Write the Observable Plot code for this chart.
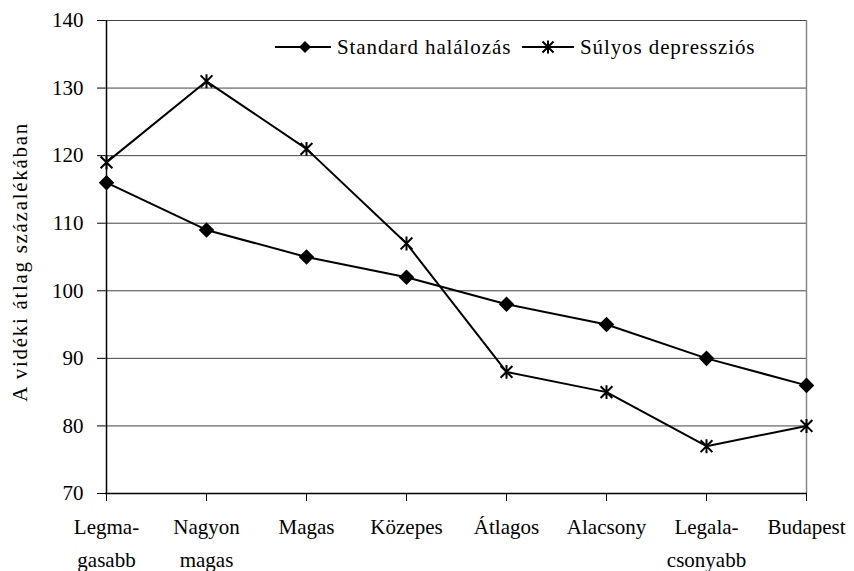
<!DOCTYPE html>
<html>
<head>
<meta charset="utf-8">
<script src="https://cdn.jsdelivr.net/npm/d3@7"></script>
<script src="https://cdn.jsdelivr.net/npm/@observablehq/plot@0.6"></script>
<style>
  html, body { margin: 0; padding: 0; background: #fff; }
  #wrap { position: relative; width: 854px; height: 571px; font-family: "Liberation Serif", "Times New Roman", serif; }
  .legend-item { position: absolute; top: 35px; height: 24px; display: flex; align-items: center; font-size: 21px; color: #000; white-space: nowrap; letter-spacing: 0.9px; }
  .legend-item svg { display: block; margin-right: 6px; }
  #chart svg g.ylab text { letter-spacing: 1.7px; }
</style>
</head>
<body>
<div id="wrap">
  <div id="chart"></div>
</div>
<script>
const categories = ["Legma-\ngasabb", "Nagyon\nmagas", "Magas", "Közepes", "Átlagos", "Alacsony", "Legala-\ncsonyabb", "Budapest"];
const standardHalalozas = [116, 109, 105, 102, 98, 95, 90, 86];
const sulyosDepresszios = [119, 131, 121, 107, 88, 85, 77, 80];
const seriesNames = ["Standard halálozás", "Súlyos depressziós"];
const yTicks = [70, 80, 90, 100, 110, 120, 130, 140];
const yLabel = "A vidéki átlag százalékában";

// custom asterisk: vertical bar plus an X
const asteriskX = {
  draw(context, size) {
    const r = Math.sqrt(size) * 0.56;
    context.moveTo(0, -r); context.lineTo(0, r);
    const d = r * 0.85;
    context.moveTo(-d, -d); context.lineTo(d, d);
    context.moveTo(-d, d); context.lineTo(d, -d);
  }
};

const rows = [];
categories.forEach((c, i) => {
  rows.push({cat: c, value: standardHalalozas[i], series: seriesNames[0]});
  rows.push({cat: c, value: sulyosDepresszios[i], series: seriesNames[1]});
});
const rowsA = rows.filter(d => d.series === seriesNames[0]);
const rowsB = rows.filter(d => d.series === seriesNames[1]);

const chart = Plot.plot({
  width: 854,
  height: 571,
  marginLeft: 105,
  marginRight: 47,
  marginTop: 20,
  marginBottom: 78,
  style: {fontFamily: "Liberation Serif, Times New Roman, serif", fontSize: "21px", background: "#fff", color: "#000"},
  x: {type: "point", domain: categories, padding: 0},
  y: {domain: [70, 140]},
  marks: [
    Plot.ruleY(yTicks.slice(1), {stroke: "#444", strokeWidth: 1}),
    Plot.ruleX([categories[categories.length - 1]], {y1: 70, y2: 140, stroke: "#888", strokeWidth: 1.5}),
    Plot.ruleX([categories[0]], {y1: 70, y2: 140, stroke: "#000", strokeWidth: 1.5}),
    Plot.ruleY([70], {stroke: "#000", strokeWidth: 1.5}),
    Plot.axisY({ticks: yTicks, tickSize: 8, tickPadding: 14, label: null, fontSize: 21}),
    Plot.axisX({tickSize: 8, tickPadding: 9, label: null, fontSize: 21, lineHeight: 1.58}),
    Plot.line(rowsA, {x: "cat", y: "value", stroke: "#000", strokeWidth: 2}),
    Plot.line(rowsB, {x: "cat", y: "value", stroke: "#000", strokeWidth: 2}),
    Plot.dot(rowsA, {x: "cat", y: "value", symbol: "diamond2", r: 7, fill: "#000", stroke: "none"}),
    Plot.dot(rowsB, {x: "cat", y: "value", symbol: asteriskX, r: 7, fill: "none", stroke: "#000", strokeWidth: 2}),
    Plot.text([yLabel], {frameAnchor: "left", textAnchor: "middle", dx: -85, dy: 5, rotate: -90, fontSize: 21, fill: "#000", className: "ylab"})
  ]
});
document.getElementById("chart").appendChild(chart);

// legend (HTML overlay inside the plot area)
const wrap = document.getElementById("wrap");
const swatches = [
  `<svg width="56" height="20"><line x1="0" y1="10" x2="56" y2="10" stroke="#000" stroke-width="2"/><path d="M30,4 L36,10 L30,16 L24,10 Z" fill="#000"/></svg>`,
  `<svg width="52" height="20"><line x1="0" y1="10" x2="52" y2="10" stroke="#000" stroke-width="2"/><path d="M26,3.5 L26,16.5 M20.5,4.5 L31.5,15.5 M20.5,15.5 L31.5,4.5" stroke="#000" stroke-width="2" fill="none"/></svg>`
];
const lefts = [275, 522];
seriesNames.forEach((name, i) => {
  const item = document.createElement("div");
  item.className = "legend-item";
  item.style.left = lefts[i] + "px";
  item.innerHTML = swatches[i] + `<span>${name}</span>`;
  wrap.appendChild(item);
});
</script>
</body>
</html>
